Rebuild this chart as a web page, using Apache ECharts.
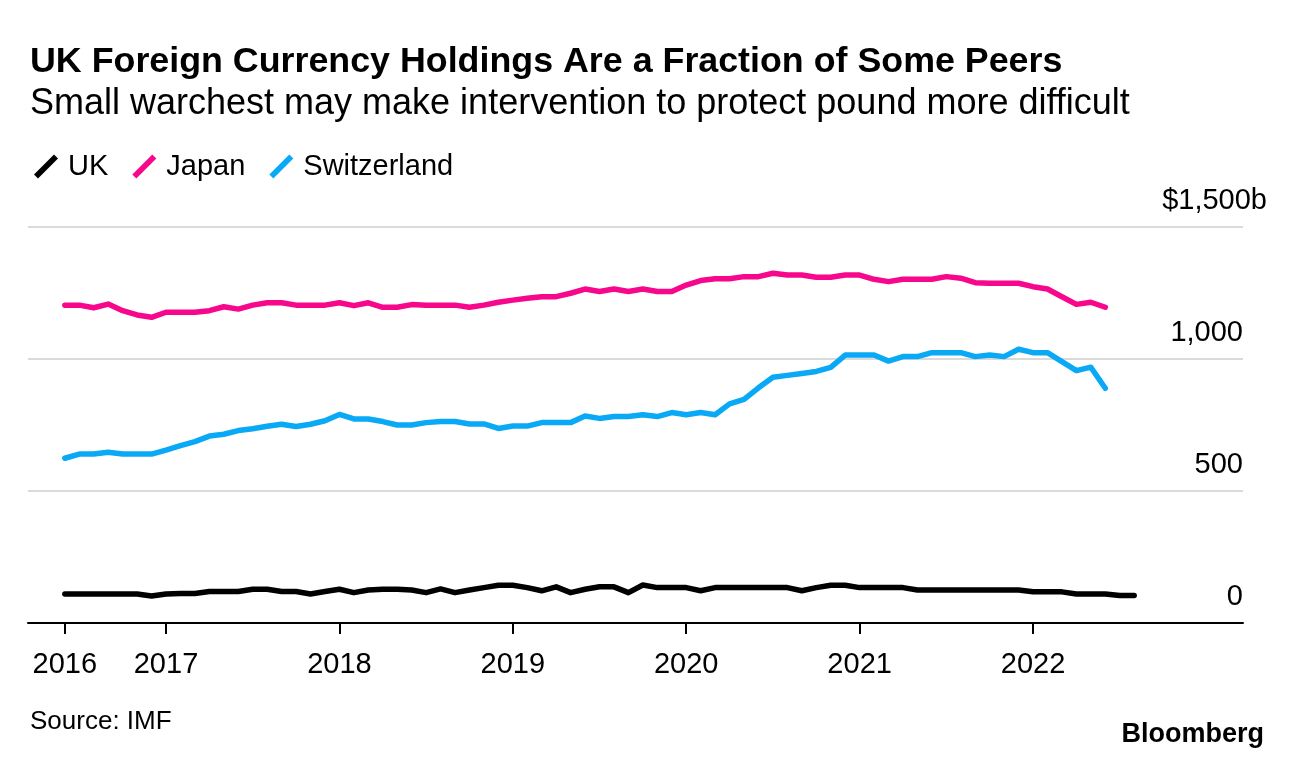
<!DOCTYPE html>
<html><head><meta charset="utf-8">
<script src="https://cdn.jsdelivr.net/npm/echarts@6/dist/echarts.min.js"></script>
<style>html,body{margin:0;padding:0;background:#fff}#c{width:1296px;height:760px}</style>
</head><body><div id="c"></div>
<script>
// Monthly data, starting June 2016 (x = months since January 2016)
const baseYear = 2016;
const startMonth = 5; // June 2016
const seriesNames = ['UK', 'Japan', 'Switzerland'];
const ukValues = [110,110,110,110,110,110,102,110,112,112,119,119,119,128,128,119,119,110,119,128,
  115,125,128,128,125,115,129,115,125,134,143,143,134,122,137,115,128,137,137,115,
  144,134,134,134,122,134,134,134,134,134,134,122,134,143,143,134,134,134,134,125,
  125,125,125,125,125,125,125,118,118,118,110,110,110,104,104];
const japanValues = [1204,1204,1194,1208,1183,1167,1158,1177,1177,1177,1183,1198,1189,1204,1213,1213,1204,1204,1204,1213,
  1202,1213,1196,1196,1206,1204,1204,1204,1196,1204,1215,1223,1230,1236,1236,1249,1265,1256,1265,1256,
  1265,1256,1256,1280,1297,1304,1304,1312,1312,1325,1318,1318,1310,1310,1318,1318,1302,1293,1302,1302,
  1302,1312,1306,1289,1287,1287,1287,1274,1265,1236,1207,1215,1196];
const switzerlandValues = [624,640,640,647,640,640,640,655,672,687,708,715,729,736,745,753,744,753,766,790,
  773,773,763,750,750,759,763,763,754,754,737,746,746,759,759,759,784,775,782,782,
  789,782,797,789,797,789,830,847,891,931,938,945,953,968,1015,1015,1015,992,1009,1009,
  1024,1024,1024,1009,1015,1009,1037,1024,1024,990,956,969,889];
// x-axis tick positions (months since Jan 2016) and their labels
const xTickMonths = [5, 12, 24, 36, 48, 60, 72];
const xTickLabels = ['2016', '2017', '2018', '2019', '2020', '2021', '2022'];
const yTickValues = [0, 500, 1000, 1500];
const colors = ['#000000', '#f7078c', '#0aa9f5'];

const xMin = 2.45, xMax = 86.53;
const FONT = "'Liberation Sans', Arial, sans-serif";
const chart = echarts.init(document.getElementById('c'), null, {renderer: 'canvas'});
const slash = 'path://M0,20 L20,0 L24,4 L4,24 Z';

chart.setOption({
  backgroundColor: '#ffffff',
  animation: false,
  textStyle: {fontFamily: FONT, color: '#000'},
  title: [
    {text: 'UK Foreign Currency Holdings Are a Fraction of Some Peers', left: 25, top: 39,
      textStyle: {fontFamily: FONT, fontSize: 35.8, fontWeight: 'bold', color: '#000'}},
    {text: 'Small warchest may make intervention to protect pound more difficult', left: 25, top: 81,
      textStyle: {fontFamily: FONT, fontSize: 36, fontWeight: 'normal', color: '#000'}},
    {text: 'Source: IMF', left: 25, top: 704,
      textStyle: {fontFamily: FONT, fontSize: 26, fontWeight: 'normal', color: '#000'}},
    {text: 'Bloomberg', right: 27, top: 716,
      textStyle: {fontFamily: FONT, fontSize: 27, fontWeight: 'bold', color: '#000'}}
  ],
  legend: {
    data: seriesNames,
    left: 29, top: 147,
    icon: slash,
    itemWidth: 24, itemHeight: 24, itemGap: 24,
    textStyle: {fontFamily: FONT, fontSize: 29, color: '#000', padding: [0, 0, 0, 5]}
  },
  grid: {left: 28, right: 53, top: 227, bottom: 137, outerBoundsMode: 'none'},
  xAxis: {
    type: 'value', min: xMin, max: xMax,
    axisLine: {show: true, lineStyle: {color: '#000', width: 2}},
    axisTick: {show: true, customValues: xTickMonths, length: 11, lineStyle: {color: '#000', width: 2}},
    axisLabel: {customValues: xTickMonths,
      formatter: v => xTickLabels[xTickMonths.indexOf(v)] || '',
      fontFamily: FONT, fontSize: 29, color: '#000', margin: 27},
    splitLine: {show: false}
  },
  yAxis: {
    type: 'value', position: 'right', min: 0, max: 1500, interval: 500,
    axisLine: {show: false}, axisTick: {show: false},
    splitLine: {show: true, lineStyle: {color: '#dadada', width: 2}},
    axisLabel: {inside: true, margin: -24, align: 'right', verticalAlign: 'bottom',
      fontFamily: FONT, fontSize: 29, color: '#000', padding: [0, 0, 12, 0],
      formatter: v => v === 1500 ? '$1,500b' : (v.toLocaleString('en-US') + '{s|}'),
      rich: {s: {width: 24, fontSize: 29}}}
  },
  series: [ukValues, japanValues, switzerlandValues].map((vals, k) => ({
    name: seriesNames[k], type: 'line', showSymbol: false, symbol: 'none',
    color: colors[k],
    lineStyle: {width: 5.5, color: colors[k], cap: 'round', join: 'round'},
    data: vals.map((v, i) => [startMonth + i, v]),
    z: 3 - k
  }))
});
</script></body></html>
